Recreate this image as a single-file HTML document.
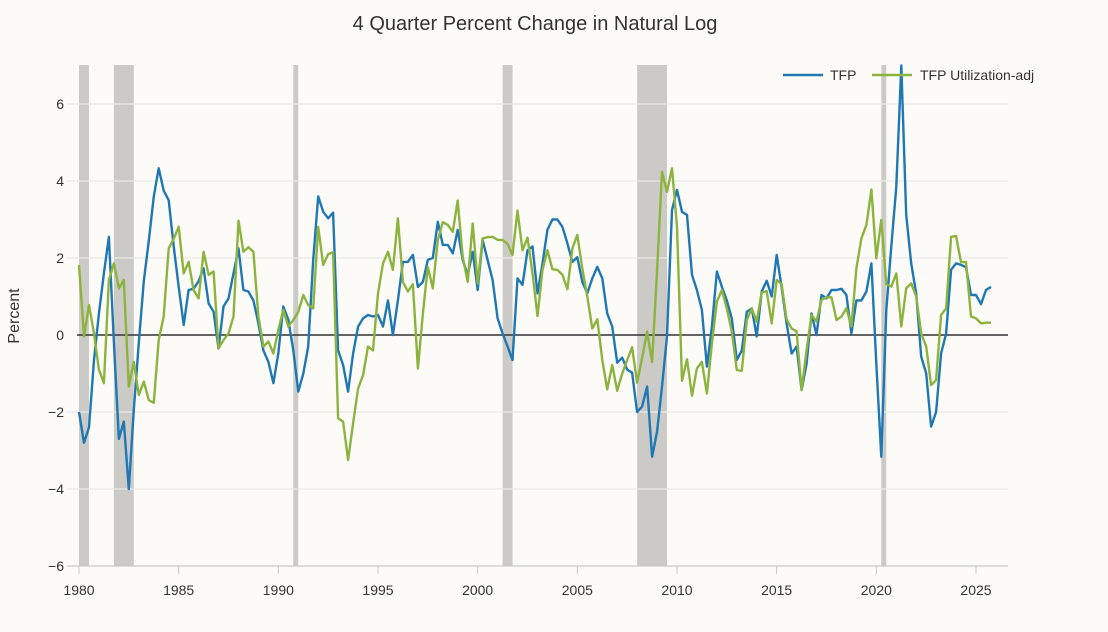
<!DOCTYPE html>
<html><head><meta charset="utf-8"><style>
body{margin:0;background:#fcfbf8;font-family:"Liberation Sans",sans-serif}
svg text{font-family:"Liberation Sans",sans-serif;fill:#333}
</style></head><body>
<svg id="chart" width="1108" height="627" xmlns="http://www.w3.org/2000/svg">
<rect width="1108" height="627" fill="#fcfbf8"/>
<text x="535" y="30" text-anchor="middle" font-size="20">4 Quarter Percent Change in Natural Log</text>
<text transform="translate(19,316) rotate(-90)" text-anchor="middle" font-size="16">Percent</text>
<g id="rec"></g><g id="grid"></g><g id="series"></g>
<g>
<line x1="783" y1="75" x2="823" y2="75" stroke="#1f77b4" stroke-width="2.5"/>
<text x="830" y="80" font-size="14">TFP</text>
<line x1="872" y1="75" x2="912" y2="75" stroke="#8db33f" stroke-width="2.5"/>
<text x="920" y="80" font-size="14">TFP Utilization-adj</text>
</g>
</svg>
<script>
const startYear = 1980;
const yTicks = [-6,-4,-2,0,2,4,6];
const xTicks = [1980,1985,1990,1995,2000,2005,2010,2015,2020,2025];
const recessionStarts = [1980.0,1981.75,1990.75,2001.25,2008.0,2020.25];
const recessionEnds = [1980.5,1982.75,1991.0,2001.75,2009.5,2020.5];
const tfp = [-2.0,-2.8,-2.4,-0.65,0.55,1.6,2.55,-0.2,-2.7,-2.25,-4.0,-1.95,-0.2,1.4,2.45,3.6,4.33,3.75,3.5,2.3,1.25,0.26,1.17,1.2,1.4,1.73,0.82,0.6,-0.35,0.74,0.95,1.6,2.25,1.17,1.13,0.9,0.3,-0.4,-0.7,-1.25,-0.48,0.74,0.4,-0.4,-1.47,-1.0,-0.3,1.95,3.6,3.2,3.03,3.18,-0.4,-0.78,-1.47,-0.48,0.22,0.43,0.52,0.48,0.52,0.22,0.9,0.0,0.9,1.9,1.9,2.08,1.25,1.38,1.95,2.0,2.94,2.34,2.34,2.12,2.73,1.95,1.56,2.16,1.17,2.47,1.95,1.43,0.43,0.04,-0.3,-0.65,1.47,1.3,2.2,2.3,1.08,1.86,2.73,3.0,3.0,2.81,2.38,1.9,2.02,1.38,1.08,1.47,1.77,1.47,0.56,0.22,-0.72,-0.59,-0.9,-0.98,-2.0,-1.86,-1.34,-3.16,-2.5,-1.34,-0.04,3.25,3.77,3.2,3.12,1.56,1.17,0.65,-0.82,0.22,1.65,1.25,0.9,0.43,-0.65,-0.4,0.6,0.69,-0.04,1.13,1.41,1.0,2.08,1.25,0.3,-0.48,-0.3,-1.43,-0.74,0.56,0.0,1.04,0.95,1.17,1.17,1.2,1.04,0.04,0.9,0.9,1.13,1.86,-0.74,-3.16,0.65,2.3,3.85,7.0,3.12,1.86,1.08,-0.56,-1.0,-2.38,-2.0,-0.48,0.04,1.7,1.86,1.82,1.76,1.04,1.04,0.8,1.17,1.25];
const tfpAdj = [1.82,-0.04,0.78,0.04,-0.9,-1.25,1.43,1.86,1.21,1.43,-1.34,-0.7,-1.56,-1.21,-1.69,-1.76,-0.13,0.48,2.25,2.5,2.81,1.6,1.9,1.17,0.95,2.16,1.56,1.65,-0.35,-0.13,0.04,0.48,2.97,2.16,2.28,2.16,0.48,-0.3,-0.17,-0.48,0.13,0.65,0.22,0.39,0.6,1.04,0.78,0.69,2.81,1.82,2.1,2.15,-2.16,-2.25,-3.25,-2.29,-1.39,-1.04,-0.3,-0.4,1.08,1.86,2.16,1.69,3.03,1.38,1.13,1.32,-0.87,0.56,1.77,1.21,2.47,2.93,2.86,2.68,3.49,2.03,1.38,2.9,1.34,2.51,2.54,2.55,2.47,2.47,2.36,2.08,3.23,2.2,2.53,1.6,0.49,1.69,2.2,1.71,1.69,1.56,1.19,2.25,2.6,1.73,1.0,0.17,0.41,-0.65,-1.41,-0.78,-1.45,-1.0,-0.65,-0.32,-1.24,-0.6,0.09,-0.7,1.69,4.24,3.72,4.33,2.81,-1.19,-0.63,-1.58,-0.87,-0.7,-1.52,-0.22,0.87,1.17,0.69,0.09,-0.91,-0.93,0.39,0.69,0.35,1.1,1.14,0.3,1.43,1.32,0.41,0.17,0.09,-1.43,-0.39,0.52,0.35,0.91,0.98,0.98,0.39,0.48,0.69,0.22,1.73,2.51,2.86,3.78,1.99,2.99,1.32,1.26,1.6,0.22,1.21,1.34,1.0,0.04,-0.3,-1.3,-1.17,0.52,0.69,2.55,2.57,1.89,1.9,0.48,0.43,0.3,0.32,0.32];

const NS='http://www.w3.org/2000/svg';
const X0=79, PX_PER_YEAR=(976-79)/45, Y0=335, PX_PER_UNIT=38.5;
const L=77, R=1008, T=65, B=566;
const xs = y => X0 + (y - startYear) * PX_PER_YEAR;
const ys = v => Y0 - v * PX_PER_UNIT;
function mk(tag, parent){const e=document.createElementNS(NS,tag);document.getElementById(parent).appendChild(e);return e;}

for (let i=0;i<recessionStarts.length;i++){
  const r=mk('rect','rec');
  
  
  r.setAttribute('x',xs(recessionStarts[i]));r.setAttribute('y',T);
  r.setAttribute('width',xs(recessionEnds[i])-xs(recessionStarts[i]));r.setAttribute('height',B-T);
  r.setAttribute('fill','#cbcac6');
}
yTicks.forEach(v=>{
  const l=mk('line','grid');
  
  
  l.setAttribute('x1',v===0?L:67);l.setAttribute('x2',R);l.setAttribute('y1',ys(v));l.setAttribute('y2',ys(v));
  l.setAttribute('stroke',v===0?'#333':(v===-6?'#c8c8c8':'#ebe9e8'));l.setAttribute('stroke-width',v===0?1.6:1.2);
  const t=mk('text','grid');
  
  
  t.setAttribute('x',64);t.setAttribute('y',ys(v)+5);t.setAttribute('text-anchor','end');t.setAttribute('font-size','14');
  t.textContent=(v<0?'\u2212'+(-v):String(v));
});
xTicks.forEach(y=>{
  const l=mk('line','grid');
  
  
  l.setAttribute('x1',xs(y));l.setAttribute('x2',xs(y));l.setAttribute('y1',B);l.setAttribute('y2',B+8);l.setAttribute('stroke','#c8c8c8');
  const t=mk('text','grid');
  
  
  t.setAttribute('x',xs(y));t.setAttribute('y',595);t.setAttribute('text-anchor','middle');t.setAttribute('font-size','14');
  t.textContent=y;
});
function drawLine(arr,color,name){
  const p=mk('polyline','series');
  
  
  p.setAttribute('points',arr.map((v,i)=>xs(startYear+i/4).toFixed(1)+','+ys(v).toFixed(1)).join(' '));
  p.setAttribute('fill','none');p.setAttribute('stroke',color);p.setAttribute('stroke-width','2.4');p.setAttribute('stroke-linejoin','round');
}
drawLine(tfp,'#1f77b4','tfp-line');
drawLine(tfpAdj,'#8db33f','tfp-adj-line');
</script>
</body></html>
